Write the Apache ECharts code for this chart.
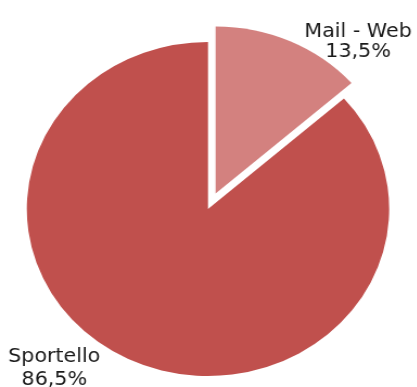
<!DOCTYPE html>
<html>
<head>
<meta charset="utf-8">
<script src="https://cdn.jsdelivr.net/npm/echarts@6/dist/echarts.min.js"></script>
<style>
  html, body { margin: 0; padding: 0; background: #fff; overflow: hidden; }
  #wrap { width: 417px; height: 387px; overflow: hidden; }
  /* the pie is drawn slightly wider than tall */
  #chart { width: 385px; height: 387px; transform: scaleX(1.085); transform-origin: 0 0; }
</style>
</head>
<body>
<div id="wrap"><div id="chart"></div></div>
<script>
// Channels and their share of requests (%)
const categories = ['Mail - Web', 'Sportello'];
const shares = [13.5, 86.5];
const colors = ['#D3817F', '#C0504D'];

// label anchor points (chart pixel coords) and line spacing per slice
const labelAnchors = [
  { x: 330, y: 42, lineHeight: 20 },
  { x: 50, y: 369, lineHeight: 23 }
];

const chart = echarts.init(document.getElementById('chart'), null, { renderer: 'canvas' });

const fmt = v => v.toFixed(1).replace('.', ',') + '%';

chart.setOption({
  animation: false,
  series: [{
    type: 'pie',
    center: [191.7, 209],
    radius: [0, 167],
    startAngle: 90,
    clockwise: true,
    selectedMode: 'single',
    selectedOffset: 17,
    emphasis: { disabled: true },
    itemStyle: { borderWidth: 0 },
    label: { show: false },
    labelLine: { show: false },
    data: categories.map((name, i) => ({
      name: name,
      value: shares[i],
      selected: i === 0,
      itemStyle: { color: colors[i] }
    }))
  }],
  // slice labels: name and share
  graphic: categories.map((name, i) => ({
    type: 'text',
    silent: true,
    style: {
      text: name + '\n' + fmt(shares[i]),
      x: labelAnchors[i].x,
      y: labelAnchors[i].y,
      align: 'center',
      verticalAlign: 'middle',
      fontFamily: 'DejaVu Sans',
      fontSize: 19,
      lineHeight: labelAnchors[i].lineHeight,
      fill: '#1a1a1a'
    }
  }))
});
</script>
</body>
</html>
